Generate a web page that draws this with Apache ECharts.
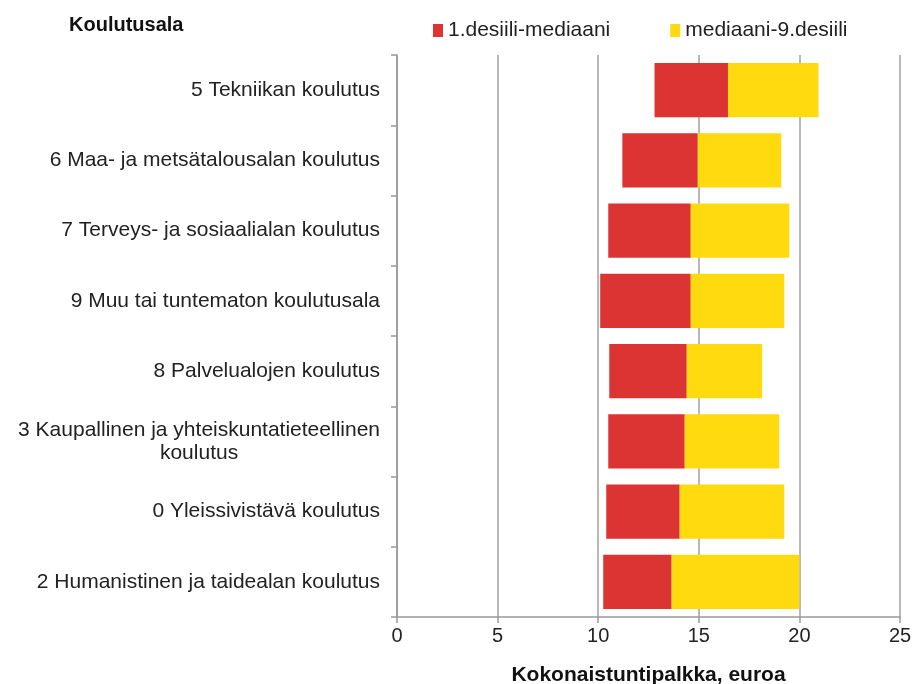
<!DOCTYPE html>
<html lang="fi">
<head>
    <meta charset="UTF-8">
    <title>Kokonaistuntipalkka koulutusaloittain</title>
    <script src="https://cdn.jsdelivr.net/npm/echarts@6/dist/echarts.min.js"></script>
    <style>
        html, body { margin: 0; padding: 0; background: #fff; }
        #chart { width: 912px; height: 684px; }
    </style>
</head>
<body>
    <div id="chart"></div>
    <script>
        // koulutusalat ylhäältä alas
        const categories = [
            '5 Tekniikan koulutus',
            '6 Maa- ja metsätalousalan koulutus',
            '7 Terveys- ja sosiaalialan koulutus',
            '9 Muu tai tuntematon koulutusala',
            '8 Palvelualojen koulutus',
            '3 Kaupallinen ja yhteiskuntatieteellinen\nkoulutus',
            '0 Yleissivistävä koulutus',
            '2 Humanistinen ja taidealan koulutus'
        ];
        // euroa / tunti
        const desiili1 = [12.8, 11.2, 10.5, 10.1, 10.55, 10.5, 10.4, 10.25];
        const mediaani = [16.45, 14.95, 14.6, 14.6, 14.4, 14.3, 14.05, 13.65];
        const desiili9 = [20.95, 19.1, 19.5, 19.25, 18.15, 19.0, 19.25, 20.0];
        const xTicks = [0, 5, 10, 15, 20, 25];

        const red = '#dc3333';
        const yellow = '#ffda0e';

        const chart = echarts.init(document.getElementById('chart'));

        const option = {
            animation: false,
            textStyle: { fontFamily: 'Liberation Sans, Arial, sans-serif' },
            title: {
                text: 'Koulutusala',
                left: 64,
                top: 10,
                textStyle: { fontSize: 20, fontWeight: 'bold', color: '#111' }
            },
            legend: {
                data: ['1.desiili-mediaani', 'mediaani-9.desiili'],
                left: 428,
                top: 15,
                icon: 'rect',
                itemWidth: 10,
                itemHeight: 13,
                itemGap: 60,
                textStyle: { fontSize: 21, color: '#222' }
            },
            grid: { left: 397, right: 12, top: 55, bottom: 67, containLabel: false, outerBoundsMode: 'none' },
            xAxis: {
                type: 'value',
                min: 0,
                max: 25,
                interval: 5,
                name: 'Kokonaistuntipalkka, euroa',
                nameLocation: 'middle',
                nameGap: 48,
                nameTextStyle: { fontSize: 21, fontWeight: 'bold', color: '#111' },
                axisLine: { show: true, lineStyle: { color: '#999', width: 1.5 } },
                axisTick: { show: true, length: 6, lineStyle: { color: '#999', width: 1.5 } },
                axisLabel: {
                    fontSize: 20, color: '#222', margin: 9,
                    formatter: v => xTicks.includes(v) ? String(v) : ''
                },
                splitLine: { show: true, lineStyle: { color: '#a0a0a0', width: 1.5 } }
            },
            yAxis: {
                type: 'category',
                data: categories,
                inverse: true,
                axisLine: { show: true, lineStyle: { color: '#999', width: 1.5 } },
                axisTick: { show: true, length: 6, lineStyle: { color: '#999', width: 1.5 } },
                axisLabel: {
                    fontSize: 21,
                    color: '#222',
                    margin: 17,
                    formatter: function (value) {
                        const lines = value.split('\n');
                        if (lines.length === 1) return '{a|' + value + '}';
                        return '{a|' + lines[0] + '}\n{b|' + lines[1] + '}';
                    },
                    rich: {
                        a: { fontSize: 21, color: '#222', lineHeight: 23 },
                        b: { fontSize: 21, color: '#222', lineHeight: 23, align: 'center' }
                    }
                }
            },
            series: [
                {
                    name: 'pohja',
                    type: 'bar',
                    stack: 'palkka',
                    barWidth: '77%',
                    silent: true,
                    itemStyle: { color: 'transparent' },
                    data: desiili1
                },
                {
                    name: '1.desiili-mediaani',
                    type: 'bar',
                    stack: 'palkka',
                    itemStyle: { color: red },
                    data: mediaani.map((m, i) => +(m - desiili1[i]).toFixed(2))
                },
                {
                    name: 'mediaani-9.desiili',
                    type: 'bar',
                    stack: 'palkka',
                    itemStyle: { color: yellow },
                    data: desiili9.map((d, i) => +(d - mediaani[i]).toFixed(2))
                }
            ]
        };

        chart.setOption(option);
    </script>
</body>
</html>
